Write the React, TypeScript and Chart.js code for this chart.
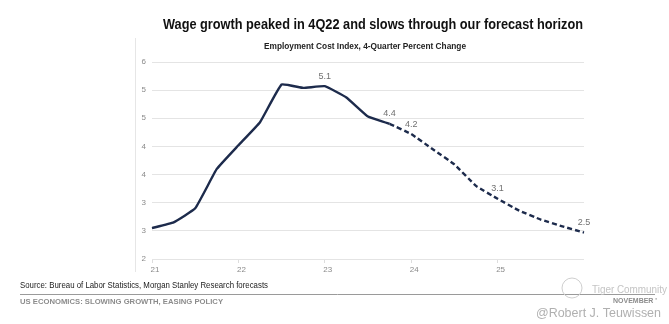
import React, { useEffect, useRef } from 'react';
import { Chart, registerables } from 'chart.js';

Chart.register(...registerables);

// ---- data ----
const quarters = [
  '1Q21', '2Q21', '3Q21', '4Q21',
  '1Q22', '2Q22', '3Q22', '4Q22',
  '1Q23', '2Q23', '3Q23', '4Q23',
  '1Q24', '2Q24', '3Q24', '4Q24',
  '1Q25', '2Q25', '3Q25', '4Q25',
  '1Q26',
];
const eciValues = [
  2.55, 2.65, 2.9, 3.6,
  4.02, 4.43, 5.1, 5.04,
  5.07, 4.87, 4.53, 4.4,
  4.22, 3.95, 3.68, 3.3,
  3.07, 2.86, 2.7, 2.58,
  2.47,
];
const forecastStartIndex = 11;
const labeledIndices = [8, 11, 12, 16, 20];
const yearTickLabels = ['21', '22', '23', '24', '25'];
const yMin = 2;
const yMax = 5.5;
const yStep = 0.5;

const titleText = 'Wage growth peaked in 4Q22 and slows through our forecast horizon';
const subtitleText = 'Employment Cost Index, 4-Quarter Percent Change';
const sourceText = 'Source: Bureau of Labor Statistics, Morgan Stanley Research forecasts';
const footerText = 'US ECONOMICS: SLOWING GROWTH, EASING POLICY';
const dateText = "NOVEMBER '";
const watermarkText = 'Tiger Community';
const authorText = '@Robert J. Teuwissen';

const FONT = '"Liberation Sans", Arial, Helvetica, sans-serif';

function drawFitted(
  ctx: CanvasRenderingContext2D,
  text: string,
  x: number,
  y: number,
  font: string,
  color: string,
  width: number,
  align: 'left' | 'center' | 'right'
) {
  ctx.save();
  ctx.font = font;
  ctx.fillStyle = color;
  ctx.textBaseline = 'middle';
  ctx.textAlign = 'left';
  const w = ctx.measureText(text).width;
  const sx = width / w;
  const left = align === 'center' ? x - width / 2 : align === 'right' ? x - width : x;
  ctx.translate(left, y);
  ctx.scale(sx, 1);
  ctx.fillText(text, 0, 0);
  ctx.restore();
}

const decorPlugin = {
  id: 'decor',
  beforeDraw(chart: any) {
    const ctx: CanvasRenderingContext2D = chart.ctx;
    ctx.save();
    ctx.fillStyle = '#ffffff';
    ctx.fillRect(0, 0, chart.width, chart.height);
    // faint frame line at left of original chart image
    ctx.strokeStyle = '#e6e6e6';
    ctx.lineWidth = 1;
    ctx.beginPath();
    ctx.moveTo(135.5, 38);
    ctx.lineTo(135.5, 272);
    ctx.stroke();
    ctx.restore();
  },
  afterDraw(chart: any) {
    const ctx: CanvasRenderingContext2D = chart.ctx;
    drawFitted(ctx, titleText, 373, 25, `bold 15px ${FONT}`, '#111111', 420, 'center');
    drawFitted(ctx, subtitleText, 365, 47, `bold 9px ${FONT}`, '#222222', 202, 'center');
    drawFitted(ctx, sourceText, 20, 286, `9px ${FONT}`, '#222222', 248, 'left');
    ctx.save();
    ctx.strokeStyle = '#9a9a9a';
    ctx.lineWidth = 1;
    ctx.beginPath();
    ctx.moveTo(20, 294.5);
    ctx.lineTo(655, 294.5);
    ctx.stroke();
    ctx.restore();
    drawFitted(ctx, footerText, 20, 302, `bold 7.5px ${FONT}`, '#8c8c8c', 203, 'left');
    drawFitted(ctx, dateText, 613, 301, `bold 7px ${FONT}`, '#8c8c8c', 44, 'left');
    // watermark
    ctx.save();
    ctx.strokeStyle = '#cfcfcf';
    ctx.lineWidth = 1;
    ctx.beginPath();
    ctx.arc(572, 288, 10, 0, Math.PI * 2);
    ctx.stroke();
    ctx.restore();
    drawFitted(ctx, watermarkText, 592, 290, `10px ${FONT}`, '#c4c4c4', 75, 'left');
    drawFitted(ctx, authorText, 536, 313, `13px ${FONT}`, '#b0b0b0', 125, 'left');
  },
};

const valueLabelPlugin = {
  id: 'valueLabels',
  afterDatasetsDraw(chart: any) {
    const ctx: CanvasRenderingContext2D = chart.ctx;
    const meta = chart.getDatasetMeta(0);
    ctx.save();
    ctx.font = `9px ${FONT}`;
    ctx.fillStyle = '#707070';
    ctx.textAlign = 'center';
    ctx.textBaseline = 'middle';
    labeledIndices.forEach((i) => {
      const p = meta.data[i];
      if (!p) return;
      ctx.fillText(eciValues[i].toFixed(1), p.x, p.y - 10);
    });
    ctx.restore();
  },
};

export default function App() {
  const canvasRef = useRef<HTMLCanvasElement | null>(null);

  useEffect(() => {
    if (!canvasRef.current) return;
    const chart = new Chart(canvasRef.current, {
      type: 'line',
      data: {
        labels: quarters,
        datasets: [
          {
            label: 'ECI',
            data: eciValues,
            borderColor: '#1d2b4c',
            borderWidth: 2.4,
            pointRadius: 0,
            tension: 0.1,
            fill: false,
            segment: {
              borderDash: (ctx: any) =>
                ctx.p0DataIndex >= forecastStartIndex ? [5, 3] : undefined,
            },
          },
        ],
      },
      options: {
        responsive: false,
        animation: false,
        devicePixelRatio: 1,
        layout: { padding: { left: 132, right: 85, top: 62, bottom: 45 } },
        plugins: {
          legend: { display: false },
          tooltip: { enabled: false },
          title: { display: false },
        },
        scales: {
          x: {
            type: 'category',
            offset: false,
            afterFit: (s: any) => {
              s.height = 20;
            },
            grid: {
              drawOnChartArea: false,
              drawTicks: true,
              tickLength: 4,
              color: '#dddddd',
            },
            border: { display: false },
            ticks: {
              autoSkip: false,
              maxRotation: 0,
              padding: 2,
              labelOffset: 3,
              color: '#8a8a8a',
              font: { family: FONT, size: 8 },
              callback: (_v: any, index: number) => {
                const q = quarters[index];
                if (q && q.startsWith('1Q')) {
                  const yr = q.slice(2);
                  return yearTickLabels.includes(yr) ? yr : null;
                }
                return null;
              },
            },
          },
          y: {
            min: yMin,
            max: yMax,
            afterFit: (s: any) => {
              s.width = 20;
            },
            grid: { color: '#e4e4e4', drawTicks: false, lineWidth: 1 },
            border: { display: false },
            ticks: {
              stepSize: yStep,
              padding: 6,
              color: '#8a8a8a',
              font: { family: FONT, size: 8 },
              callback: (v: any) => String(Math.round(Number(v))),
            },
          },
        },
      },
      plugins: [decorPlugin, valueLabelPlugin],
    });
    return () => chart.destroy();
  }, []);

  return (
    <div
      style={{
        position: 'fixed',
        left: 0,
        top: 0,
        width: 669,
        height: 324,
        background: '#ffffff',
      }}
    >
      <canvas ref={canvasRef} width={669} height={324} />
    </div>
  );
}
